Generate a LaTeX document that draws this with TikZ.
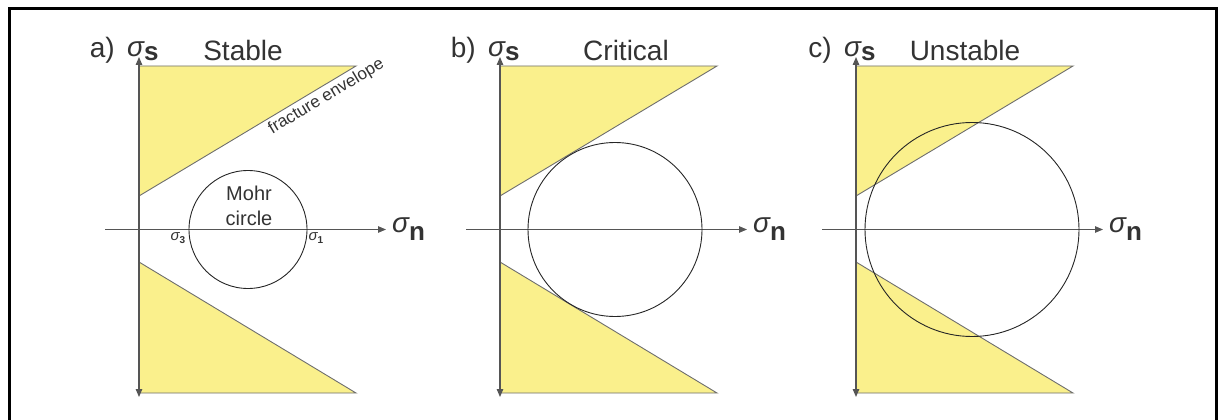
\documentclass[tikz,border=0pt]{standalone}
\usepackage{fontspec}
\setmainfont{Liberation Sans}
\usetikzlibrary{arrows.meta, calc}
\definecolor{envYellow}{HTML}{FAF08C}
\definecolor{axGrey}{HTML}{555555}
\definecolor{edgeGrey}{HTML}{6E6E6E}
\definecolor{txtGrey}{HTML}{333333}
\tikzset{
  % thin grey axes with small solid tips, as in the printed figure
  axtip/.tip      = {Triangle[length=8pt, width=6.5pt]},
  axisline/.style = {axGrey, line width=1.1pt},
  envfill/.style  = {fill=envYellow, draw=edgeGrey, line width=0.9pt},
  mohr/.style     = {black!85, line width=0.9pt},
  frame/.style    = {black, line width=3pt},
  ttl/.style      = {font=\fontsize{28}{30}\selectfont, txtGrey, inner sep=0pt},
  axlbl/.style    = {font=\fontsize{28}{30}\selectfont, txtGrey, inner sep=0pt},
  slbl/.style     = {font=\fontsize{20}{22}\selectfont, txtGrey, inner sep=0pt},
  tiny/.style     = {font=\fontsize{15}{16}\selectfont, txtGrey, inner sep=0pt},
}
\newcommand{\sgm}[2]{{\itshape σ}\raisebox{-#2}{\fontsize{26}{28}\selectfont\bfseries #1}}
\newcommand{\sgmsmall}[1]{{\itshape σ}\raisebox{-3pt}{\fontsize{10}{11}\selectfont\bfseries #1}}

\begin{document}
\begin{tikzpicture}[x=1pt, y=-1pt]
  \useasboundingbox (0,0) rectangle (1218,420);
  % outer frame
  \draw[frame] (9,9) rectangle (1216,440);
  % three panels: origin x, circle centre x, radius, title
  \foreach \tag/\ox/\cx/\r/\title/\tx in {a/139/248/59/Stable/243,
                                          b/500/615/87/Critical/626,
                                          c/856/972/107/Unstable/965}{
    \coordinate (top-\tag)   at (\ox,57);
    \coordinate (bot-\tag)   at (\ox,397);
    \coordinate (left-\tag)  at (\ox-34,229.5);
    \coordinate (right-\tag) at (\ox+247,229.5);
    \coordinate (env-\tag)   at (\ox,196);
    \coordinate (tip-\tag)   at (\ox+217,66);
    \coordinate (lenv-\tag)  at (\ox,262);
    \coordinate (ltip-\tag)  at (\ox+217,393);
    % fracture envelope (upper and lower branch)
    \draw[envfill] (\ox,66) -- (tip-\tag) -- (env-\tag) -- cycle;
    \draw[envfill] (lenv-\tag) -- (ltip-\tag) -- (\ox,393) -- cycle;
    % axes
    \draw[axisline, {axtip}-{axtip}] (bot-\tag) -- (top-\tag);
    \draw[axisline, -{axtip}] (left-\tag) -- (right-\tag);
    % Mohr circle
    \draw[mohr] (\cx,229.5) circle[radius=\r];
    % labels
    \node[ttl, anchor=base east] (tag-\tag) at (\ox-24,58) {\tag)};
    \node[axlbl, anchor=base west] (sigs-\tag) at (\ox-12,57) {\sgm{s}{3pt}};
    \node[ttl, anchor=base] (title-\tag) at (\tx,60) {\title};
    \node[axlbl, anchor=base west] (sign-\tag) at ($(right-\tag)+(6,2.5)$) {\sgm{n}{8pt}};
  }
  % extra labels of panel a
  \path (env-a) -- (tip-a) node[pos=0.837, sloped, below, inner sep=3pt,
        font=\fontsize{17}{18}\selectfont, txtGrey] (envlbl) {fracture envelope};
  \node[slbl, anchor=base] (mohr1) at (249,200) {Mohr};
  \node[slbl, anchor=base] (mohr2) at (249,225) {circle};
  \node[tiny] (s3) at (178,238) {\sgmsmall{3}};
  \node[tiny] (s1) at (316,238) {\sgmsmall{1}};
\end{tikzpicture}
\end{document}
